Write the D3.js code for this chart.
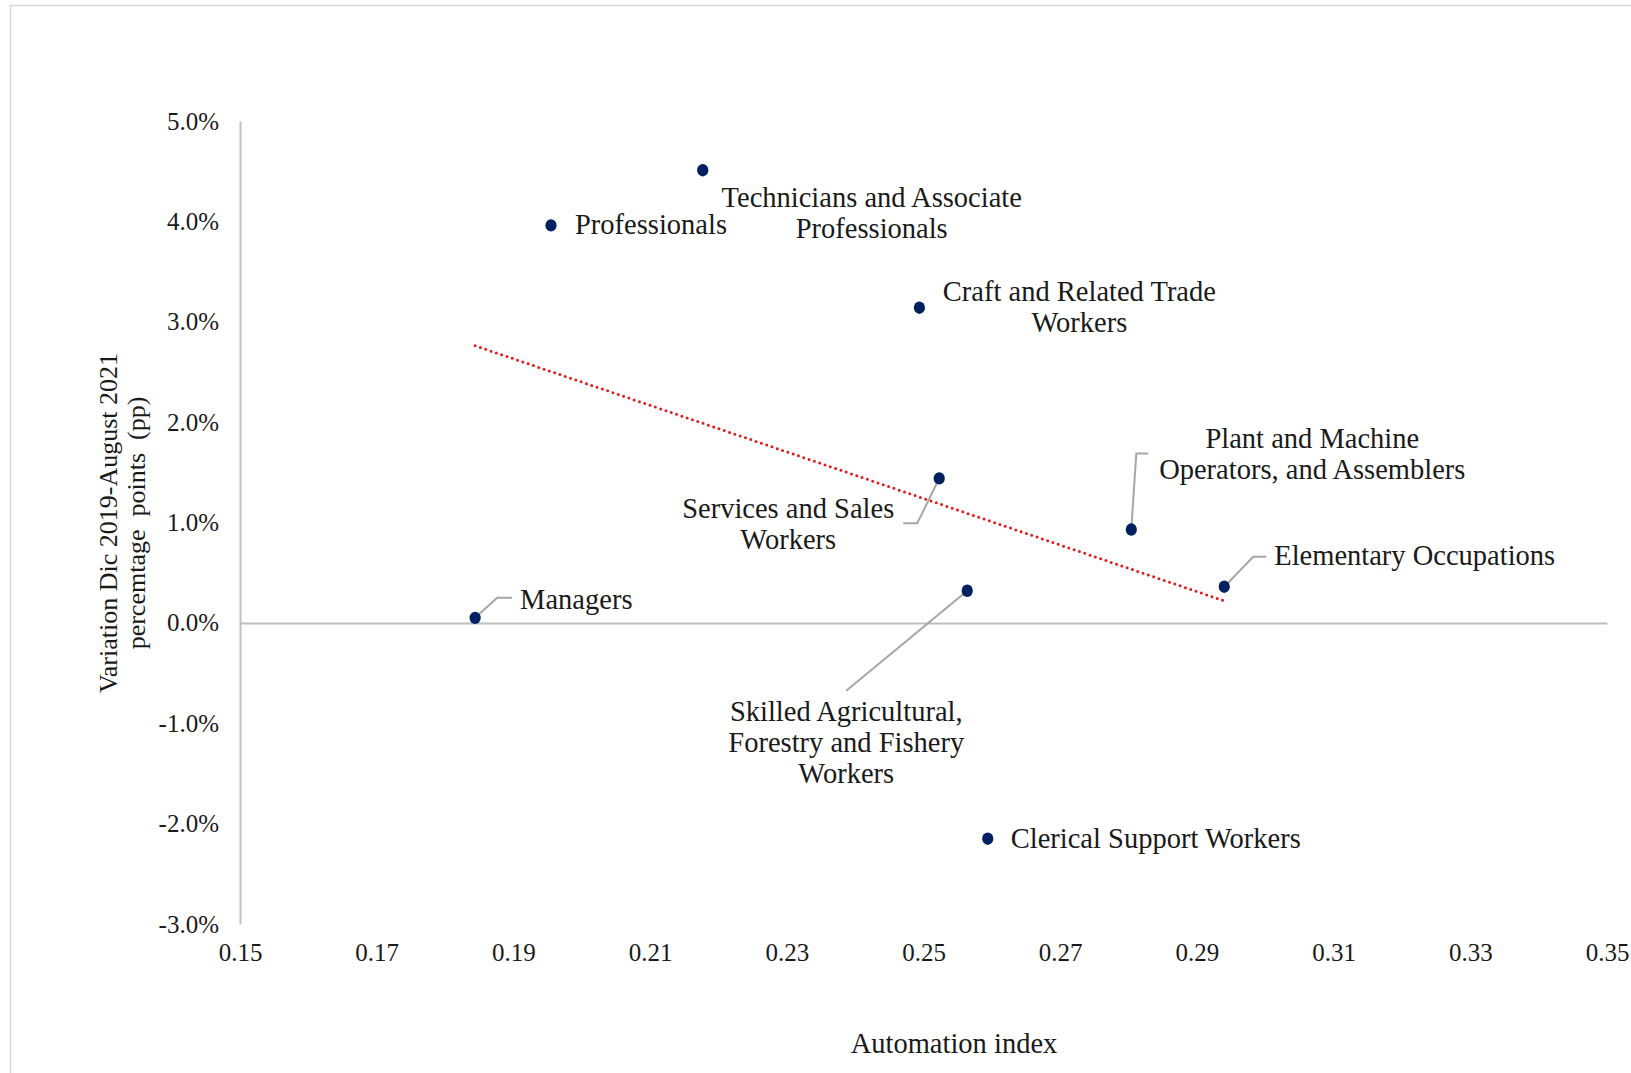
<!DOCTYPE html>
<html>
<head>
<meta charset="utf-8">
<script src="https://cdn.jsdelivr.net/npm/d3@7"></script>
<style>
  html, body { margin: 0; padding: 0; background: #ffffff; }
  svg text { font-family: "Liberation Serif", "DejaVu Serif", serif; fill: #1a1a1a; }
</style>
</head>
<body>
<svg id="chart" width="1631" height="1073"></svg>
<script>
// Occupational groups, their automation index and employment-share change (pp)
const occupations = [
  "Managers",
  "Professionals",
  "Technicians and Associate Professionals",
  "Craft and Related Trade Workers",
  "Services and Sales Workers",
  "Skilled Agricultural, Forestry and Fishery Workers",
  "Clerical Support Workers",
  "Plant and Machine Operators, and Assemblers",
  "Elementary Occupations"
];
const automationIndex = [0.1844, 0.1955, 0.2177, 0.2494, 0.2523, 0.2564, 0.2594, 0.2804, 0.2940];
const variationPP     = [0.0005, 0.0396, 0.0451, 0.0314, 0.0144, 0.0032, -0.0215, 0.0093, 0.0036];

const xTicks = [0.15, 0.17, 0.19, 0.21, 0.23, 0.25, 0.27, 0.29, 0.31, 0.33, 0.35];
const yTicks = [0.05, 0.04, 0.03, 0.02, 0.01, 0.00, -0.01, -0.02, -0.03];

// Label text lines for each occupation (same order as above)
const labelLines = [
  ["Managers"],
  ["Professionals"],
  ["Technicians and Associate", "Professionals"],
  ["Craft and Related Trade", "Workers"],
  ["Services and Sales", "Workers"],
  ["Skilled Agricultural,", "Forestry and Fishery", "Workers"],
  ["Clerical Support Workers"],
  ["Plant and Machine", "Operators, and Assemblers"],
  ["Elementary Occupations"]
];

// Label placement relative to each point (pixels): anchor, offset of first line, leader path
const labelLayout = [
  { anchor: "start",  dx: 45,   dy: -19, leader: [[22, -20], [37, -20]] },
  { anchor: "start",  dx: 24,   dy: -1 },
  { anchor: "middle", dx: 169,  dy: 27 },
  { anchor: "middle", dx: 160,  dy: -17 },
  { anchor: "middle", dx: -151, dy: 30, leader: [[-22, 45], [-36, 45]] },
  { anchor: "middle", dx: -121, dy: 120, leader: [[-121, 100]] },
  { anchor: "start",  dx: 23,   dy: -1 },
  { anchor: "middle", dx: 181,  dy: -92, leader: [[5, -76], [17, -76]] },
  { anchor: "start",  dx: 50,   dy: -32, leader: [[29, -30], [42, -30]] }
];

const svg = d3.select("#chart");
const W = 1631, H = 1073;
const serif = "'Liberation Serif', serif";

// Chart area frame
svg.append("rect")
  .attr("x", 10.5).attr("y", 5.5)
  .attr("width", W + 20).attr("height", H + 20)
  .attr("fill", "none").attr("stroke", "#d9d9d9").attr("stroke-width", 1.5);

const x = d3.scaleLinear().domain([0.15, 0.35]).range([240, 1607]);
const y = d3.scaleLinear().domain([-0.03, 0.05]).range([924, 121]);

const axisColor = "#bfbfbf";

// Y axis
const yAxis = svg.append("g")
  .attr("transform", `translate(${x(0.15)},0)`)
  .call(d3.axisLeft(y).tickValues(yTicks).tickSize(0).tickPadding(21)
    .tickFormat(d => d3.format(".1%")(d).replace("−", "-")));
yAxis.select(".domain").attr("stroke", axisColor).attr("stroke-width", 2);
yAxis.selectAll("text")
  .attr("font-size", 25).attr("fill", "#1a1a1a")
  .style("font-family", serif);

// Horizontal axis line through zero
const xAxisLine = svg.append("g")
  .attr("transform", `translate(0,${y(0)})`)
  .call(d3.axisBottom(x).tickValues([]).tickSize(0));
xAxisLine.select(".domain").attr("stroke", axisColor).attr("stroke-width", 2);

// X tick labels along the bottom of the plot
const xAxis = svg.append("g")
  .attr("transform", `translate(0,${y(-0.03)})`)
  .call(d3.axisBottom(x).tickValues(xTicks).tickSize(0).tickPadding(19)
    .tickFormat(d3.format(".2f")));
xAxis.select(".domain").remove();
xAxis.selectAll("text")
  .attr("font-size", 25).attr("fill", "#1a1a1a")
  .style("font-family", serif);

// Axis titles
svg.append("text")
  .attr("x", 954).attr("y", 1053)
  .attr("text-anchor", "middle").attr("font-size", 28.5)
  .text("Automation index");

const yTitle = svg.append("text")
  .attr("transform", `translate(117,523) rotate(-90)`)
  .attr("text-anchor", "middle").attr("font-size", 26)
  .style("white-space", "pre");
yTitle.append("tspan").attr("x", 0).attr("dy", 0).text("Variation Dic 2019-August 2021");
yTitle.append("tspan").attr("x", 0).attr("dy", 28).text("percemtage  points  (pp)");

// Linear trend (least squares over the points)
const mx = d3.mean(automationIndex), my = d3.mean(variationPP);
const sxy = d3.sum(automationIndex, (v, i) => (v - mx) * (variationPP[i] - my));
const sxx = d3.sum(automationIndex, v => (v - mx) * (v - mx));
const slope = sxy / sxx, intercept = my - slope * mx;
const [xmin, xmax] = d3.extent(automationIndex);
svg.append("path")
  .attr("d", d3.line()([[x(xmin), y(slope * xmin + intercept)], [x(xmax), y(slope * xmax + intercept)]]))
  .attr("stroke", "#e31a1c").attr("stroke-width", 3)
  .attr("stroke-dasharray", "0 5.6").attr("stroke-linecap", "round")
  .attr("fill", "none");

const pts = occupations.map((name, i) => ({
  name, px: x(automationIndex[i]), py: y(variationPP[i]), lines: labelLines[i], lay: labelLayout[i]
}));

// Leader lines
svg.append("g").selectAll("path")
  .data(pts.filter(d => d.lay.leader))
  .join("path")
  .attr("d", d => d3.line()([[d.px, d.py], ...d.lay.leader.map(([a, b]) => [d.px + a, d.py + b])]))
  .attr("fill", "none").attr("stroke", "#a6a6a6").attr("stroke-width", 2);

// Points
svg.append("g").selectAll("ellipse")
  .data(pts)
  .join("ellipse")
  .attr("cx", d => d.px).attr("cy", d => d.py)
  .attr("rx", 5.6).attr("ry", 6.2)
  .attr("fill", "#002060");

// Data labels
const labels = svg.append("g").selectAll("text")
  .data(pts)
  .join("text")
  .attr("font-size", 28.5)
  .attr("text-anchor", d => d.lay.anchor)
  .attr("dominant-baseline", "central");
labels.each(function(d) {
  const t = d3.select(this);
  d.lines.forEach((ln, k) => {
    t.append("tspan")
      .attr("x", d.px + d.lay.dx)
      .attr("y", d.py + d.lay.dy + k * 31)
      .text(ln);
  });
});
</script>
</body>
</html>
